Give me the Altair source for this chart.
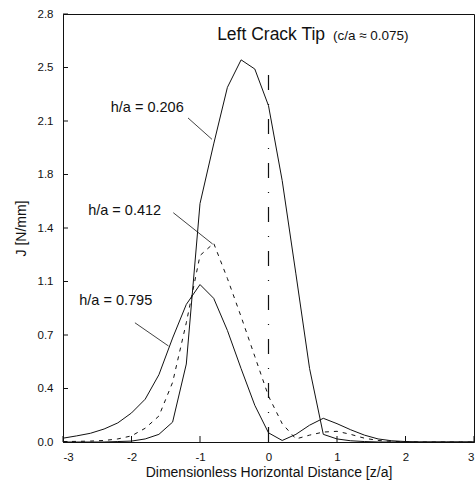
import altair as alt
import pandas as pd

# ---------------- data ----------------
Z = [-3.0, -2.8, -2.6, -2.4, -2.2, -2.0, -1.8, -1.6, -1.4, -1.2, -1.0,
     -0.8, -0.6, -0.4, -0.2, 0.0, 0.2, 0.4, 0.6, 0.8, 1.0,
     1.2, 1.4, 1.6, 1.8, 2.0, 2.2, 2.4, 2.6, 2.8, 3.0]

J_206 = [0.0, 0.0, 0.0, 0.0, 0.003, 0.006, 0.02, 0.05, 0.13, 0.51, 1.56,
         1.95, 2.32, 2.50, 2.44, 2.20, 1.71, 1.10, 0.48, 0.05, 0.02,
         0.008, 0.003, 0.0, 0.0, 0.0, 0.0, 0.0, 0.0, 0.0, 0.0]

J_412 = [0.003, 0.004, 0.006, 0.01, 0.02, 0.04, 0.09, 0.17, 0.39, 0.78, 1.22,
         1.30, 1.07, 0.82, 0.56, 0.30, 0.12, 0.02, 0.045, 0.065, 0.07,
         0.05, 0.025, 0.01, 0.004, 0.002, 0.0, 0.0, 0.0, 0.0, 0.0]

J_795 = [0.025, 0.04, 0.057, 0.085, 0.125, 0.19, 0.28, 0.44, 0.68, 0.90, 1.03,
         0.94, 0.73, 0.48, 0.24, 0.06, 0.01, 0.05, 0.11, 0.155, 0.12,
         0.08, 0.045, 0.02, 0.008, 0.003, 0.0, 0.0, 0.0, 0.0, 0.0]

SERIES_LABELS = ["h/a = 0.206", "h/a = 0.412", "h/a = 0.795"]

X_TICKS = [-3, -2, -1, 0, 1, 2, 3]
X_TICK_LABELS = ["-3", "-2", "-1", "0", "1", "2", "3"]
Y_TICKS = [0.0, 0.35, 0.70, 1.05, 1.40, 1.75, 2.10, 2.45, 2.80]
Y_TICK_LABELS = ["0.0", "0.4", "0.7", "1.1", "1.4", "1.8", "2.1", "2.5", "2.8"]

TITLE_MAIN = "Left Crack Tip"
TITLE_SUB = "(c/a \u2248 0.075)"
X_TITLE = "Dimensionless Horizontal Distance [z/a]"
Y_TITLE = "J [N/mm]"

# annotation anchor points (data units)
LABEL_Z = [-1.77, -2.10, -2.23]
LABEL_J = [2.185, 1.51, 0.924]
LEADER_Z1 = [-1.175, -1.39, -1.95]
LEADER_J1 = [2.12, 1.50, 0.78]
LEADER_Z2 = [-0.825, -0.815, -1.46]
LEADER_J2 = [1.98, 1.295, 0.628]
TITLE_Z = [-0.75, 0.94]
TITLE_J = [2.66, 2.655]
CRACK_Z = [0.0]
CRACK_J = [0.0]
CRACK_J2 = [2.48]

FONT = "Liberation Sans"
INK = "#111111"

# ---------------- scales / axes ----------------
xscale = alt.Scale(domain=[-3, 3], nice=False, zero=False)
yscale = alt.Scale(domain=[0, 2.8], nice=False)

x_label_expr = "[" + ",".join("'%s'" % s for s in X_TICK_LABELS) + "][round(datum.value + 3)]"
y_label_expr = "[" + ",".join("'%s'" % s for s in Y_TICK_LABELS) + "][round(datum.value / 0.35)]"

xaxis = alt.Axis(values=X_TICKS, labelExpr=x_label_expr, title=X_TITLE,
                 ticks=False, tickSize=0, labelPadding=9, titlePadding=3,
                 grid=False)
yaxis = alt.Axis(values=Y_TICKS, labelExpr=y_label_expr, title=Y_TITLE,
                 ticks=False, tickSize=0, labelPadding=10, titlePadding=9,
                 grid=False)


def X(field="z"):
    return alt.X(field + ":Q", scale=xscale, axis=xaxis)


def Y(field="J"):
    return alt.Y(field + ":Q", scale=yscale, axis=yaxis)


curves = pd.DataFrame({
    "z": Z * 3,
    "J": J_206 + J_412 + J_795,
    "series": [SERIES_LABELS[0]] * len(Z) + [SERIES_LABELS[1]] * len(Z) + [SERIES_LABELS[2]] * len(Z),
})

solid = alt.Chart(curves).transform_filter(
    alt.FieldOneOfPredicate(field="series", oneOf=[SERIES_LABELS[0], SERIES_LABELS[2]])
).mark_line(color=INK, strokeWidth=1).encode(x=X(), y=Y(), detail="series:N", order="z:Q")

dashed = alt.Chart(curves).transform_filter(
    alt.FieldEqualPredicate(field="series", equal=SERIES_LABELS[1])
).mark_line(color=INK, strokeWidth=1, strokeDash=[4, 5]).encode(x=X(), y=Y(), order="z:Q")

crack = alt.Chart(pd.DataFrame({"z": CRACK_Z, "J": CRACK_J, "J2": CRACK_J2})).mark_rule(
    color=INK, strokeWidth=1.2, strokeDash=[15, 14, 1, 14]
).encode(x=X(), y=Y(), y2="J2:Q")

labels = alt.Chart(pd.DataFrame({"z": LABEL_Z, "J": LABEL_J, "t": SERIES_LABELS})).mark_text(
    font=FONT, fontSize=14.5, color=INK, align="center", baseline="middle"
).encode(x=X(), y=Y(), text="t:N")

leaders = alt.Chart(pd.DataFrame({"z": LEADER_Z1, "J": LEADER_J1, "z2": LEADER_Z2, "J2": LEADER_J2})).mark_rule(
    color=INK, strokeWidth=0.8
).encode(x=X(), y=Y(), x2="z2:Q", y2="J2:Q")

title_main = alt.Chart(pd.DataFrame({"z": TITLE_Z[:1], "J": TITLE_J[:1], "t": [TITLE_MAIN]})).mark_text(
    font=FONT, fontSize=17.5, color=INK, align="left", baseline="middle"
).encode(x=X(), y=Y(), text="t:N")

title_sub = alt.Chart(pd.DataFrame({"z": TITLE_Z[1:], "J": TITLE_J[1:], "t": [TITLE_SUB]})).mark_text(
    font=FONT, fontSize=13.5, color=INK, align="left", baseline="middle"
).encode(x=X(), y=Y(), text="t:N")

yticks = alt.Chart(pd.DataFrame({"J": Y_TICKS})).mark_rule(color=INK, strokeWidth=1).encode(
    y=Y(), x=alt.value(0), x2=alt.value(5)
)
xticks = alt.Chart(pd.DataFrame({"z": X_TICKS})).mark_rule(color=INK, strokeWidth=1).encode(
    x=X(), y=alt.value(428), y2=alt.value(422)
)

chart = alt.layer(
    solid, dashed, crack, leaders, labels, title_main, title_sub, yticks, xticks
).properties(
    width=411, height=428,
    padding={"left": 63, "top": 14, "right": 2, "bottom": 39},
    autosize=alt.AutoSizeParams(type="none"),
    background="white",
).configure_view(
    stroke=INK, strokeWidth=1
).configure_axis(
    domainColor=INK, domainWidth=1, labelColor=INK, titleColor=INK,
    labelFont=FONT, titleFont=FONT, labelFontSize=11.5, titleFontSize=14,
    titleFontWeight="normal",
)

chart.save("out.html", embed_options={"renderer": "svg", "actions": False})
